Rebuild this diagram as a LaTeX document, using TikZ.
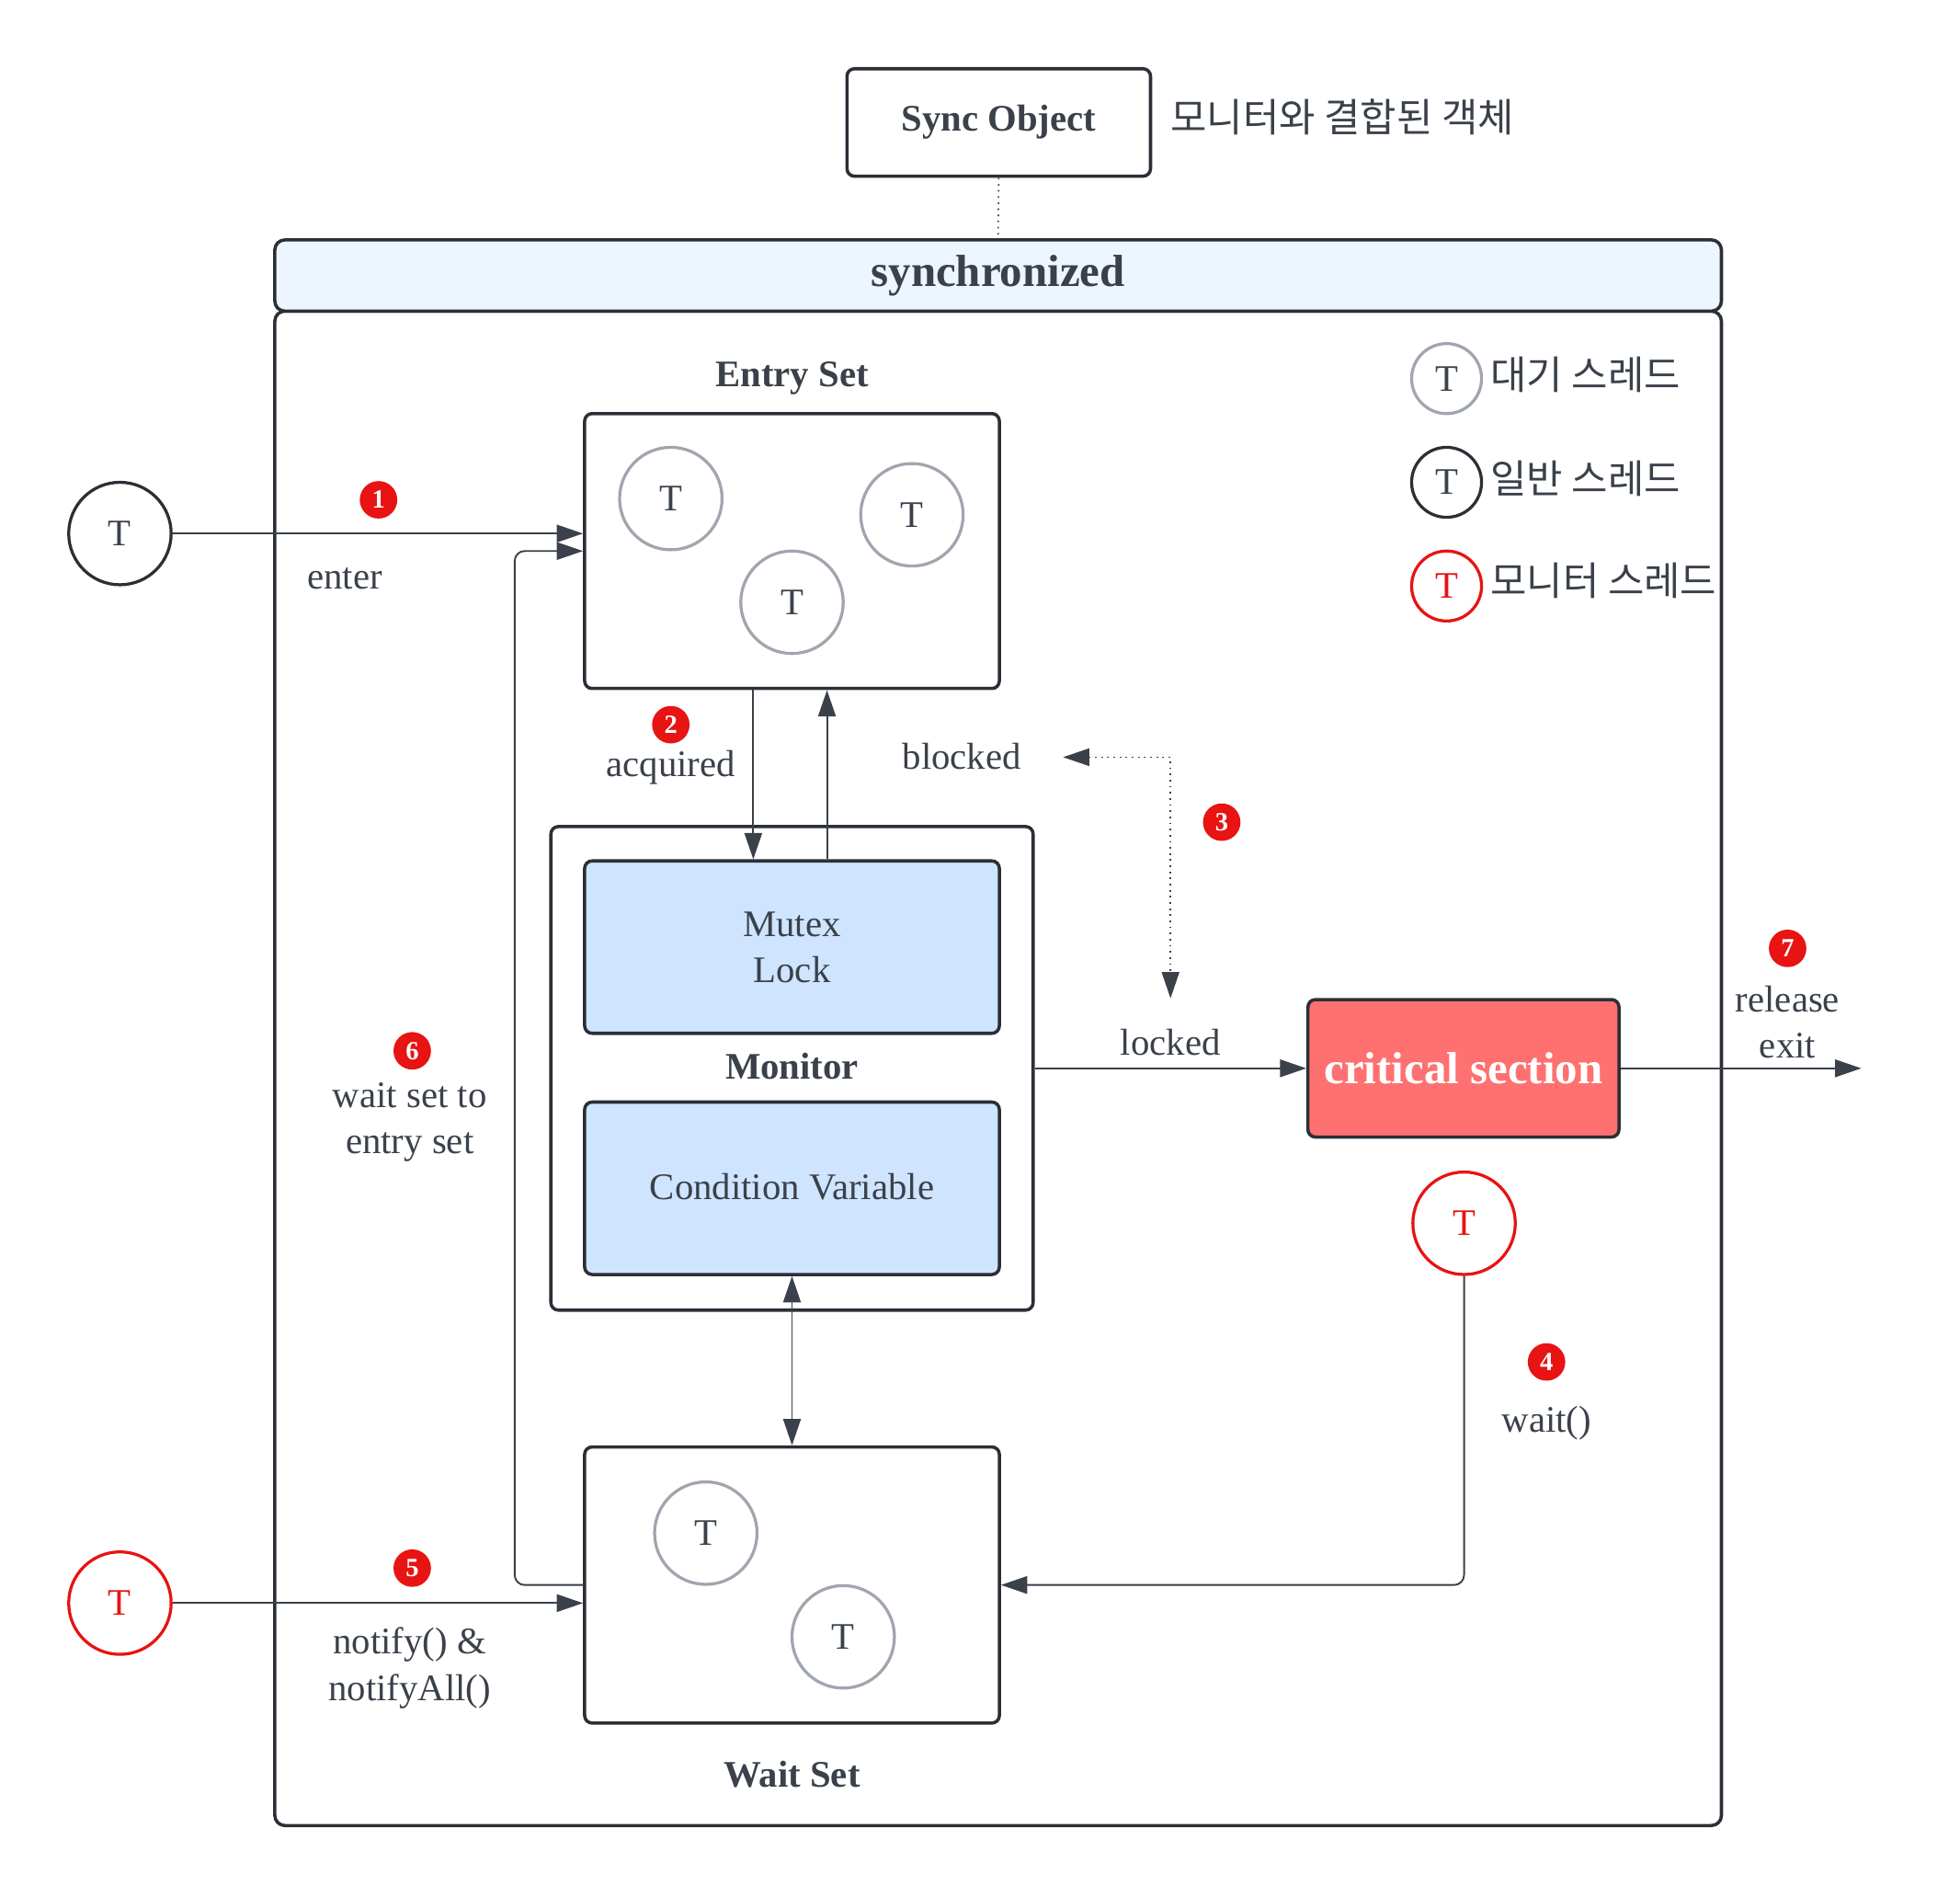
\documentclass[tikz,border=0pt]{standalone}
\usepackage{fontspec}
\setmainfont{Liberation Serif}
\newfontfamily\kr{Noto Sans CJK KR}
\usetikzlibrary{arrows.meta}
\definecolor{txt}{HTML}{3A414A}
\definecolor{edge}{HTML}{2B2F36}
\definecolor{grayc}{HTML}{A0A6AF}
\definecolor{redc}{HTML}{E81313}
\definecolor{hdrfill}{HTML}{EDF5FF}
\definecolor{mbox}{HTML}{CFE4FF}
\definecolor{crit}{HTML}{FF7070}
\begin{document}
\begin{tikzpicture}[x=1pt,y=-1pt,
  box/.style={draw=edge,line width=2.6pt,rounded corners=6pt,inner sep=0pt},
  lbl/.style={text=txt,font=\fontsize{30}{37}\selectfont,align=center,inner sep=0pt},
  blbl/.style={text=txt,font=\fontsize{30}{37}\selectfont\bfseries,align=center,inner sep=0pt},
  krl/.style={text=txt,font=\kr\fontsize{31.5}{34}\selectfont,inner sep=0pt,anchor=west},
  thr/.style={circle,line width=2.4pt,minimum size=82pt,inner sep=0pt,font=\fontsize{30}{36}\selectfont},
  gthr/.style={thr,draw=grayc,text=txt},
  kthr/.style={thr,draw=edge,text=txt},
  rthr/.style={thr,draw=redc,text=redc},
  lgd/.style={minimum size=56pt},
  badge/.style={circle,fill=redc,minimum size=30pt,inner sep=0pt,text=white,font=\fontsize{21}{21}\selectfont\bfseries},
  arr/.style={draw=txt,line width=1.4pt,-{Triangle[length=21pt,width=14pt]}},
  darr/.style={draw=txt,line width=1.4pt,{Triangle[length=21pt,width=14pt]}-{Triangle[length=21pt,width=14pt]}},
  dotarr/.style={draw=txt,line width=1.2pt,dash pattern=on 1.3pt off 3.6pt,{Triangle[length=21pt,width=14pt]}-{Triangle[length=21pt,width=14pt]}}
]
\useasboundingbox (0,0) rectangle (1569,1518);

% container
\node[box,rounded corners=8pt,minimum width=1158pt,minimum height=1212pt] (body) at (799,855) {};
\node[box,rounded corners=8pt,fill=hdrfill,minimum width=1158pt,minimum height=57pt,
      text=txt,font=\fontsize{36}{36}\selectfont\bfseries] (hdr) at (799,220.5) {synchronized};

% sync object
\node[box,minimum width=243pt,minimum height=86pt,text=txt,font=\fontsize{30}{36}\selectfont\bfseries] (so) at (799.5,98) {Sync Object};
\node[krl] (sol) at (937,94) {모니터와 결합된 객체};
\draw[draw=txt,line width=1.2pt,dash pattern=on 1.3pt off 3.6pt] (so.south) -- (hdr.north);

% legend
\node[gthr,lgd] (lg1) at (1158,303) {T};
\node[kthr,lgd] (lg2) at (1158,386) {T};
\node[rthr,lgd] (lg3) at (1158,469) {T};
\node[krl] (lgl1) at (1193,300) {대기 스레드};
\node[krl] (lgl2) at (1193,383) {일반 스레드};
\node[krl] (lgl3) at (1193,465) {모니터 스레드};

% entry set
\node[blbl] (esl) at (634,303) {Entry Set};
\node[box,minimum width=332pt,minimum height=220pt] (es) at (634,441) {};
\node[gthr] (e1) at (537,399) {T};
\node[gthr] (e2) at (730,412) {T};
\node[gthr] (e3) at (634,482) {T};

% monitor
\node[box,minimum width=386pt,minimum height=387pt] (mon) at (634,855) {};
\node[box,fill=mbox,minimum width=332pt,minimum height=138pt,text=txt,font=\fontsize{30}{37}\selectfont,align=center] (mx) at (634,758) {Mutex\\Lock};
\node[blbl] (monl) at (634,853) {Monitor};
\node[box,fill=mbox,minimum width=332pt,minimum height=138pt,text=txt,font=\fontsize{30}{37}\selectfont] (cv) at (634,951) {\raisebox{3pt}{Condition Variable}};

% wait set
\node[box,minimum width=332pt,minimum height=221pt] (ws) at (634,1268.5) {};
\node[gthr] (w1) at (565,1227) {T};
\node[gthr] (w2) at (675,1310) {T};
\node[blbl] (wsl) at (634,1420) {Wait Set};

% critical section
\node[box,fill=crit,minimum width=249pt,minimum height=110pt,text=white,font=\fontsize{36}{36}\selectfont\bfseries] (cs) at (1171.5,855) {critical section};

% threads outside
\node[kthr] (t1) at (96,427) {T};
\node[rthr] (t5) at (96,1283) {T};
\node[rthr] (t4) at (1172,979) {T};

% coordinates
\coordinate (rtx) at (412,0);
\coordinate (dnx) at (603,0);
\coordinate (upx) at (662,0);
\coordinate (exitp) at (1490,855);
\coordinate (blkp) at (851,606);
\coordinate (lckp) at (937,799);

% connectors
\draw[arr] (t1) -- (t1 -| es.west);
\draw[arr,rounded corners=8pt] (ws.west) -| (rtx |- es.west) -- (es.west);
\draw[arr] (es.south -| dnx) -- (mx.north -| dnx);
\draw[arr] (mx.north -| upx) -- (es.south -| upx);
\draw[dotarr] (blkp) -| (lckp);
\draw[arr] (mon.east) -- (cs.west);
\draw[arr] (cs.east) -- (exitp);
\draw[darr] (cv.south) -- (ws.north);
\draw[arr,rounded corners=8pt] (t4.south) |- (ws.east);
\draw[arr] (t5) -- (t5 -| ws.west);

% labels
\node[lbl] (l1) at (276,463) {enter};
\node[lbl] (l2) at (537,614) {acquired};
\node[lbl] (l3a) at (770,605) {blocked};
\node[lbl] (l3b) at (937,834) {locked};
\node[lbl] (l7) at (1431,818) {release\\exit};
\node[lbl] (l4) at (1238,1139) {wait()};
\node[lbl] (l6) at (328,898) {wait set to\\entry set};
\node[lbl] (l5) at (328,1335) {notify() \&\\notifyAll()};

% badges
\node[badge] (b1) at (303,400) {1};
\node[badge] (b2) at (537,580) {2};
\node[badge] (b3) at (978,658) {3};
\node[badge] (b4) at (1238,1090) {4};
\node[badge] (b5) at (330,1255) {5};
\node[badge] (b6) at (330,841) {6};
\node[badge] (b7) at (1431,759) {7};
\end{tikzpicture}
\end{document}
